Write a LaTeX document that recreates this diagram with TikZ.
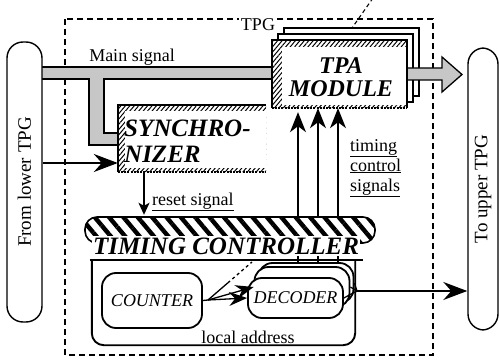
\documentclass[tikz,border=0pt]{standalone}
\usepackage{fontspec}
\setmainfont{Liberation Serif}
\usetikzlibrary{arrows.meta,patterns.meta,calc}

\begin{document}
\begin{tikzpicture}[x=1pt,y=-1pt,
  wire/.style={line width=1.3pt},
  outline/.style={line width=1.9pt},
  band/.style={fill=black!22, draw, line width=1.3pt},
  plainbox/.style={fill=white, draw, line width=1.4pt},
  pill/.style={draw, fill=white, line width=1.4pt, rounded corners=16, rotate=90,
               font=\fontsize{19}{21}\selectfont},
  rbox/.style={draw, fill=white, line width=1.8pt, rounded corners=14},
  lbl/.style={font=\fontsize{18}{20}\selectfont, inner sep=1pt},
  title/.style={font=\fontsize{24}{24}\selectfont\bfseries\itshape, inner sep=1pt},
  finehatch/.style={pattern={Lines[angle=50,distance=3.4pt,line width=1pt]}},
  boldhatch/.style={pattern={Lines[angle=-50,distance=11pt,line width=4.4pt]}},
  hatchedge/.style={line width=1.8pt, dash pattern=on 2pt off 1.2pt},
  tpgline/.style={line width=1.2pt, dash pattern=on 6pt off 4pt},
  bigtip/.style={-{Stealth[length=24pt,width=18pt,inset=8pt]}},
  uptip/.style={-{Stealth[length=20pt,width=16pt,inset=6pt]}},
  midtip/.style={-{Stealth[length=18pt,width=14pt,inset=6pt]}},
  smalltip/.style={-{Stealth[length=12pt,width=11pt,inset=3pt]}}]
\useasboundingbox (0,0) rectangle (499,361);

% ---- TPG boundary ----
\draw[tpgline] (65,19) rectangle (433,355);
\node[lbl, fill=white, inner sep=2pt] (tpg) at (258,25) {TPG};
\coordinate (ptrtop) at (373,-2);
\coordinate (ptrend) at (352,28);
\draw[tpgline, line width=1.1pt, dash pattern=on 4pt off 3pt] (ptrtop) -- (ptrend);

% ---- main signal path (left part with branch to the synchronizer) ----
\path[band] (36,67) -- (282,67) -- (282,79) -- (104,79) -- (104,133) -- (128,133)
  -- (128,145) -- (89,145) -- (89,79) -- (36,79) -- cycle;
\node[lbl] (mainlbl) at (132,57) {Main signal};

% ---- TPA module stack ----
\node[plainbox, minimum width=135, minimum height=68] (tpaB1) at (351.5,62) {};
\node[plainbox, minimum width=135, minimum height=68] (tpaB2) at (345.5,68) {};
\path[band] (398,68) -- (442,68) -- (442,57) -- (462,74.5) -- (442,92) -- (442,80)
  -- (398,80) -- cycle;
\node[fill=white, minimum width=135, minimum height=68] (tpa) at (339.5,74) {};
\fill[finehatch, even odd rule] (tpa.north west) rectangle (tpa.south east)
  ($(tpa.north west)+(10,7)$) rectangle ($(tpa.south east)+(0,-3)$);
\draw[outline] (tpa.south west) -- (tpa.north west) -- (tpa.north east) -- (tpa.south east);
\draw[hatchedge] (tpa.south west) -- (tpa.south east);
\node[title, align=center] (tpatext) at (341,77) {TPA\\[-1pt]MODULE};

% ---- synchronizer ----
\node[fill=white, minimum width=148, minimum height=67] (sync) at (192,138.5) {};
\fill[finehatch, even odd rule] (sync.north west) rectangle (sync.south east)
  ($(sync.north west)+(7,6)$) rectangle ($(sync.south east)+(0,-4)$);
\draw[outline] (sync.south west) -- (sync.north west) -- (sync.north east);
\draw[hatchedge] (sync.south west) -- (sync.south east);
\node[title, font=\fontsize{25}{25}\selectfont\bfseries\itshape, align=left, anchor=west]
  (synctext) at (123,141) {SYNCHRO-\\[1pt]NIZER};

% ---- neighbouring TPGs ----
\node[pill, minimum width=280, minimum height=35] (lpill) at (24.5,182) {From lower TPG};
\node[pill, minimum width=282, minimum height=30] (rpill) at (483,189) {To upper TPG};

\coordinate (inrow) at (0,163);
\draw[wire, bigtip] (lpill.south |- inrow) -- (sync.west |- inrow);

% ---- decoder stack ----
\node[rbox, minimum width=95, minimum height=40] (decA) at (306,283) {};
\node[rbox, minimum width=95, minimum height=40] (decB) at (302,287) {};

% timing control signals up to the TPA module
\coordinate (c1) at (298,0);
\coordinate (c2) at (318,0);
\coordinate (c3) at (338,0);
\draw[wire, uptip, shorten >=4pt] (decA.north -| c1) -- (tpa.south -| c1);
\draw[wire, uptip] (decA.north -| c2) -- (tpa.south -| c2);
\draw[wire, uptip] (decA.north -| c3) -- (tpa.south -| c3);
\node[lbl, anchor=west, align=left] (tclbl) at (349,168)
  {\underline{timing}\\\underline{control}\\\underline{signals}};

% ---- timing controller ----
\node[draw, line width=1.6pt, rounded corners=12, minimum width=290, minimum height=26,
      preaction={fill=white}, boldhatch] (tchead) at (230,230) {};
\node[title, font=\fontsize{25}{25}\selectfont\bfseries\itshape, fill=white, inner sep=1.5pt]
  (tctext) at (226,246) {TIMING CONTROLLER};
\node[minimum width=263, minimum height=85, inner sep=0pt] (tcbody) at (223.5,302.5) {};
\draw[outline, rounded corners=12] (tcbody.north west) -- (tcbody.south west)
  -- (tcbody.south east) -- (tcbody.north east);
\draw[outline] ($(tcbody.north west)+(-2,0)$) -- ($(tcbody.north east)+(8,0)$);

\node[rbox, minimum width=100, minimum height=55,
      font=\fontsize{18}{20}\selectfont\itshape] (counter) at (152,300.5) {COUNTER};
\node[rbox, minimum width=95, minimum height=40,
      font=\fontsize{18}{20}\selectfont\itshape] (dec) at (295.5,298) {DECODER};

% counter feeds every decoder of the stack
\coordinate (fan) at (208,300);
\coordinate (fanend) at (252,262);
\draw[wire] (counter.east) -- (fan);
\draw[wire, midtip] (fan) -- (dec.west);
\draw[wire, midtip] (fan) -- (decB.west);
\draw[wire] (fan) -- ($(fan)!0.45!(fanend)$);
\draw[wire, dashed] ($(fan)!0.45!(fanend)$) -- (fanend);

% decoder outputs to the upper TPG
\coordinate (outj) at (357,291);
\draw[wire] (decA.east) -- (outj);
\draw[wire] (decB.east) -- (outj);
\draw[wire] (dec.east) -- (outj);
\draw[wire, bigtip] (outj) -- (rpill.north |- outj);

\node[lbl] (addrlbl) at (248,337) {local address};

% ---- reset ----
\coordinate (rcol) at (144,0);
\draw[wire, smalltip] (sync.south -| rcol) -- (tchead.north -| rcol);
\node[lbl, anchor=west] (resetlbl) at (151,202) {\underline{reset signal}};

\end{tikzpicture}
\end{document}
